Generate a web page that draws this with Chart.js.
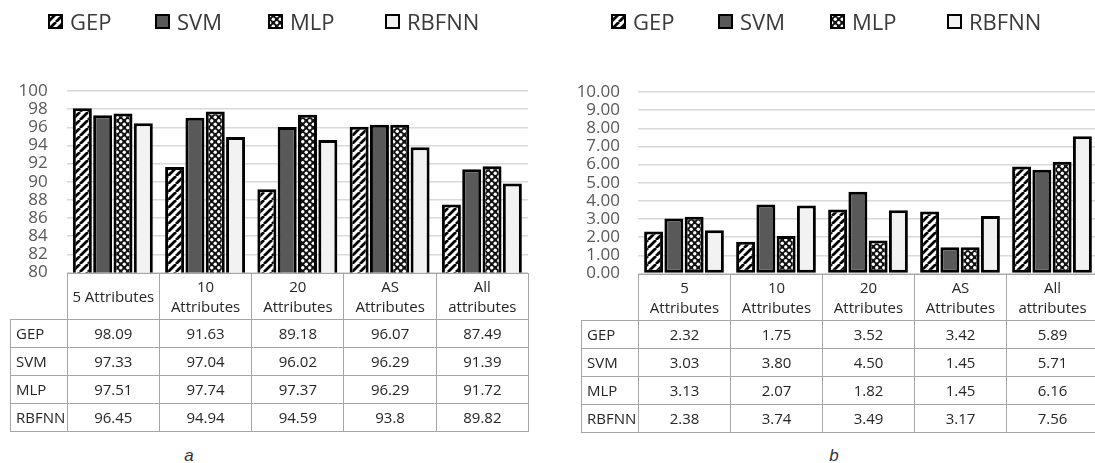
<!DOCTYPE html>
<html>
<head>
<meta charset="utf-8">
<script src="https://cdn.jsdelivr.net/npm/chart.js@4.4.1/dist/chart.umd.min.js"></script>
<style>
  html, body { margin: 0; padding: 0; background: #fff; width: 1095px; height: 463px; overflow: hidden; }
  body { font-family: 'Open Sans', sans-serif; position: relative; }
  .panel { position: absolute; top: 0; height: 463px; }
  #panelA { left: 0; width: 560px; }
  #panelB { left: 560px; width: 545px; }
  .panel canvas.chart { position: absolute; left: 0; top: 0; }
  .legend-item { position: absolute; top: 8px; height: 26px; display: flex; align-items: center;
                 font-size: 22px; color: #3a3a3a; white-space: nowrap; }
  .legend-item canvas { width: 15px; height: 15px; margin-right: 7px; flex: none; }
  .cell { position: absolute; box-sizing: border-box; border: 1px solid #a6a6a6; display: flex;
          align-items: center; justify-content: center; text-align: center; font-size: 15px;
          line-height: 20px; color: #262626; }
  .cell.rowlabel { justify-content: flex-start; padding-left: 5px; font-size: 15px; }
  .caption { position: absolute; top: 446px; font-family: 'Liberation Sans', sans-serif; font-style: italic;
             font-size: 17px; color: #333; transform: translateX(-50%); }
</style>
</head>
<body>
<div class="panel" id="panelA">
  <canvas class="chart" id="chartA" width="540" height="300"></canvas>
  <div class="caption" style="left:189px">a</div>
</div>
<div class="panel" id="panelB">
  <canvas class="chart" id="chartB" width="545" height="300"></canvas>
  <div class="caption" style="left:274px">b</div>
</div>
<script>
// ---- data ----
const seriesNames = ["GEP", "SVM", "MLP", "RBFNN"];

const categoriesA = [["5 Attributes"], ["10", "Attributes"], ["20", "Attributes"], ["AS", "Attributes"], ["All", "attributes"]];
const gepA = [98.09, 91.63, 89.18, 96.07, 87.49];
const svmA = [97.33, 97.04, 96.02, 96.29, 91.39];
const mlpA = [97.51, 97.74, 97.37, 96.29, 91.72];
const rbfA = [96.45, 94.94, 94.59, 93.8, 89.82];
const ticksA = { min: 80, max: 100, step: 2 };

const categoriesB = [["5", "Attributes"], ["10", "Attributes"], ["20", "Attributes"], ["AS", "Attributes"], ["All", "attributes"]];
const gepB = [2.32, 1.75, 3.52, 3.42, 5.89];
const svmB = [3.03, 3.80, 4.50, 1.45, 5.71];
const mlpB = [3.13, 2.07, 1.82, 1.45, 6.16];
const rbfB = [2.38, 3.74, 3.49, 3.17, 7.56];
const ticksB = { min: 0, max: 10, step: 1 };

// ---- fills ----
function tile(w, h, paint) {
  const c = document.createElement('canvas');
  c.width = w; c.height = h;
  const g = c.getContext('2d');
  paint(g);
  return g.createPattern(c, 'repeat');
}
const stripeFill = tile(8, 8, g => {
  g.fillStyle = '#fff'; g.fillRect(0, 0, 8, 8);
  g.strokeStyle = '#000'; g.lineWidth = 2.8;
  g.beginPath();
  for (const o of [-8, 0, 8]) { g.moveTo(o, 8); g.lineTo(o + 8, 0); }
  g.stroke();
});
const dotFill = tile(7, 7, g => {
  g.fillStyle = '#111'; g.fillRect(0, 0, 7, 7);
  g.fillStyle = '#fff';
  for (const [x, y] of [[1.75, 1.75], [5.25, 5.25]]) {
    g.beginPath(); g.arc(x, y, 1.7, 0, Math.PI * 2); g.fill();
  }
});
const fills = [stripeFill, '#595959', dotFill, '#f2f2f2'];

Chart.defaults.font.family = "'Open Sans', sans-serif";

function buildLegend(panel, xs) {
  seriesNames.forEach((name, i) => {
    const item = document.createElement('div');
    item.className = 'legend-item';
    item.style.left = xs[i] + 'px';
    const sw = document.createElement('canvas');
    sw.width = 15; sw.height = 15;
    const g = sw.getContext('2d');
    g.fillStyle = fills[i]; g.fillRect(0, 0, 15, 15);
    g.strokeStyle = '#000'; g.lineWidth = 2; g.strokeRect(1, 1, 13, 13);
    item.appendChild(sw);
    const t = document.createElement('span');
    t.textContent = name;
    item.appendChild(t);
    panel.appendChild(item);
  });
}

function buildChart(cfg) {
  const datasets = cfg.series.map((data, i) => ({
    label: seriesNames[i],
    data: data,
    backgroundColor: fills[i],
    borderColor: '#000',
    borderWidth: 3,
    borderSkipped: false,
    categoryPercentage: 0.881,
    barPercentage: 0.935
  }));
  return new Chart(document.getElementById(cfg.canvas), {
    type: 'bar',
    data: { labels: cfg.categories.map(l => l.join(' ')), datasets },
    options: {
      responsive: false,
      animation: false,
      events: [],
      layout: { padding: cfg.padding },
      plugins: { legend: { display: false }, tooltip: { enabled: false } },
      scales: {
        x: { display: false, offset: true },
        y: {
          min: cfg.ticks.min, max: cfg.ticks.max,
          ticks: {
            stepSize: cfg.ticks.step, padding: cfg.tickPad, color: '#595959',
            autoSkip: false, maxTicksLimit: 50,
            font: { size: 17, lineHeight: 1 }, callback: cfg.tickFmt
          },
          grid: { color: '#d9d9d9', lineWidth: 1.5, drawTicks: false },
          border: { display: false },
          afterFit: s => { s.width = cfg.axisWidth; }
        }
      }
    }
  });
}

// data table under the plot, aligned to the category scale
function buildTable(panel, chart, categories, series, fmt, labelLeft) {
  const area = chart.chartArea;
  const xs = chart.scales.x;
  const n = categories.length;
  const colW = (area.right - area.left) / n;
  const top = area.bottom;
  const headH = 46, rowH = 28;
  function cell(x, y, w, h, html, cls) {
    const d = document.createElement('div');
    d.className = 'cell' + (cls ? ' ' + cls : '');
    d.style.left = x + 'px'; d.style.top = y + 'px';
    d.style.width = (w + 1) + 'px'; d.style.height = (h + 1) + 'px';
    d.innerHTML = html;
    panel.appendChild(d);
  }
  categories.forEach((lines, j) => {
    const cx = xs.getPixelForValue(j);
    cell(cx - colW / 2, top, colW, headH, lines.join('<br>'));
  });
  series.forEach((data, i) => {
    const y = top + headH + i * rowH;
    cell(labelLeft, y, area.left - labelLeft, rowH, seriesNames[i], 'rowlabel');
    data.forEach((v, j) => {
      const cx = xs.getPixelForValue(j);
      cell(cx - colW / 2, y, colW, rowH, fmt(v));
    });
  });
}

const panelA = document.getElementById('panelA');
const panelB = document.getElementById('panelB');

const chartA = buildChart({
  canvas: 'chartA', categories: categoriesA, series: [gepA, svmA, mlpA, rbfA], ticks: ticksA,
  padding: { top: 91, bottom: 19, left: 0, right: 12 }, axisWidth: 66.7, tickPad: 19,
  tickFmt: v => String(v)
});
const chartB = buildChart({
  canvas: 'chartB', categories: categoriesB, series: [gepB, svmB, mlpB, rbfB], ticks: ticksB,
  padding: { top: 92, bottom: 19, left: 0, right: 7 }, axisWidth: 78, tickPad: 18,
  tickFmt: v => v.toFixed(2)
});

buildLegend(panelA, [48, 155, 268, 385]);
buildLegend(panelB, [51, 158, 270, 387]);

buildTable(panelA, chartA, categoriesA, [gepA, svmA, mlpA, rbfA], v => String(v), 10);
buildTable(panelB, chartB, categoriesB, [gepB, svmB, mlpB, rbfB], v => v.toFixed(2), 21);
</script>
</body>
</html>
